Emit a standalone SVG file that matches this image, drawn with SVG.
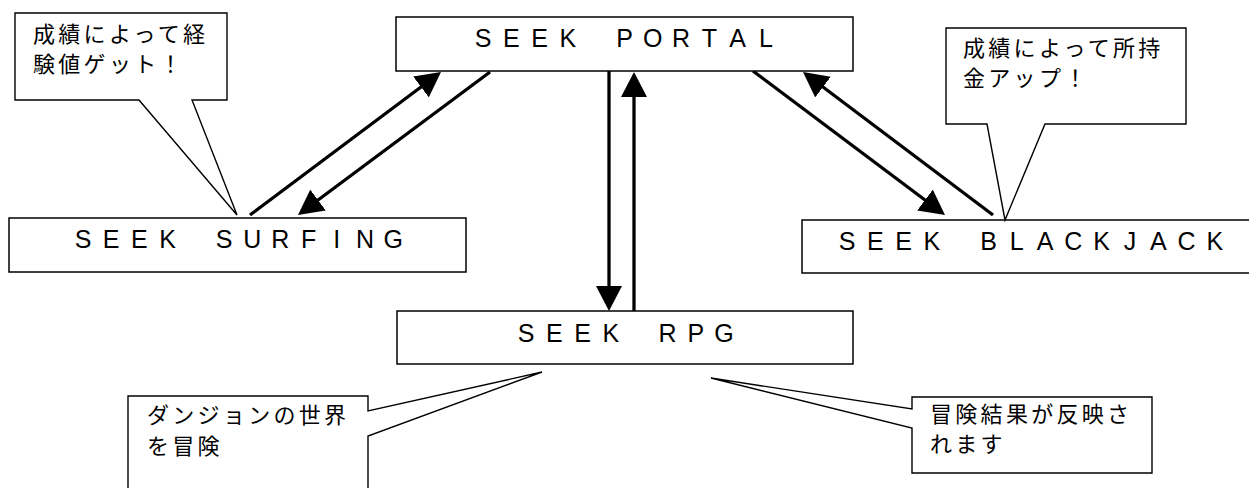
<svg xmlns="http://www.w3.org/2000/svg" width="1249" height="488" viewBox="0 0 1249 488">
<style>
.box{fill:#fff;stroke:#000;stroke-width:1.5}
.lbl{font-family:"Liberation Sans",Arial,sans-serif;font-size:25px;fill:#000;text-anchor:middle}
.call{fill:#fff;stroke:#000;stroke-width:1.4;stroke-linejoin:miter}
.ctxt{font-family:"Noto Sans CJK JP","Noto Sans CJK SC",sans-serif;font-size:22px;letter-spacing:3.3px;fill:#000}
.arr{stroke:#000;stroke-width:3.3;fill:none;marker-end:url(#ah)}
</style>
<defs>
<marker id="ah" viewBox="0 0 25 26" markerUnits="userSpaceOnUse" markerWidth="25" markerHeight="26" refX="10" refY="13" orient="auto">
<path d="M0,0 L25,13 L0,26 Z" fill="#000"/>
</marker>
</defs>
<rect width="1249" height="488" fill="#fff"/>

<g id="connectors">
<line class="arr" x1="250" y1="215" x2="429" y2="81"/>
<line class="arr" x1="490" y1="72" x2="310" y2="206"/>
<line class="arr" x1="753" y1="71" x2="933" y2="206"/>
<line class="arr" x1="993" y1="215" x2="815" y2="81"/>
<line class="arr" x1="609" y1="71" x2="609" y2="296"/>
<line class="arr" x1="634" y1="311" x2="634" y2="87"/>
</g>

<g id="portal">
<rect class="box" x="396" y="17" width="457" height="54"/>
<text class="lbl" x="483 511.3 539.6 567.9 596.2 624.5 652.8 681.1 709.4 737.7 766" y="47">SEEK PORTAL</text>
</g>

<g id="surfing">
<rect class="box" x="9" y="218" width="457" height="54"/>
<text class="lbl" x="83 111.2 139.4 167.6 195.8 224 252.2 280.4 308.6 336.8 365 393.2" y="248">SEEK SURFING</text>
</g>

<g id="blackjack">
<rect class="box" x="802" y="220" width="460" height="53"/>
<text class="lbl" x="847 875.3 903.6 931.9 960.2 988.5 1016.8 1045.1 1073.4 1101.7 1130 1158.3 1186.6 1214.9" y="250">SEEK BLACKJACK</text>
</g>

<g id="rpg">
<rect class="box" x="397" y="311" width="456" height="53"/>
<text class="lbl" x="526 554.3 582.6 610.9 639.2 667.5 695.8 724.1" y="342">SEEK RPG</text>
</g>

<g id="callout-exp">
<path class="call" d="M15,13 H227 V100 H192 L237,215 L139,100 H15 Z"/>
<text class="ctxt" x="33" y="42">成績によって経</text>
<text class="ctxt" x="33" y="72">験値ゲット！</text>
</g>

<g id="callout-money">
<path class="call" d="M946,28 H1186 V124 H1045 L1005,220 L987,124 H946 Z"/>
<text class="ctxt" x="963" y="56">成績によって所持</text>
<text class="ctxt" x="963" y="86">金アップ！</text>
</g>

<g id="callout-dungeon">
<path class="call" d="M128,500 V396 H368 V411 L542,372 L368,436 V500"/>
<text class="ctxt" x="147" y="423">ダンジョンの世界</text>
<text class="ctxt" x="147" y="454">を冒険</text>
</g>

<g id="callout-result">
<path class="call" d="M912,397 H1152 V473 H912 V428 L711,378 L912,409 Z"/>
<text class="ctxt" x="930" y="422">冒険結果が反映さ</text>
<text class="ctxt" x="930" y="452">れます</text>
</g>
</svg>
